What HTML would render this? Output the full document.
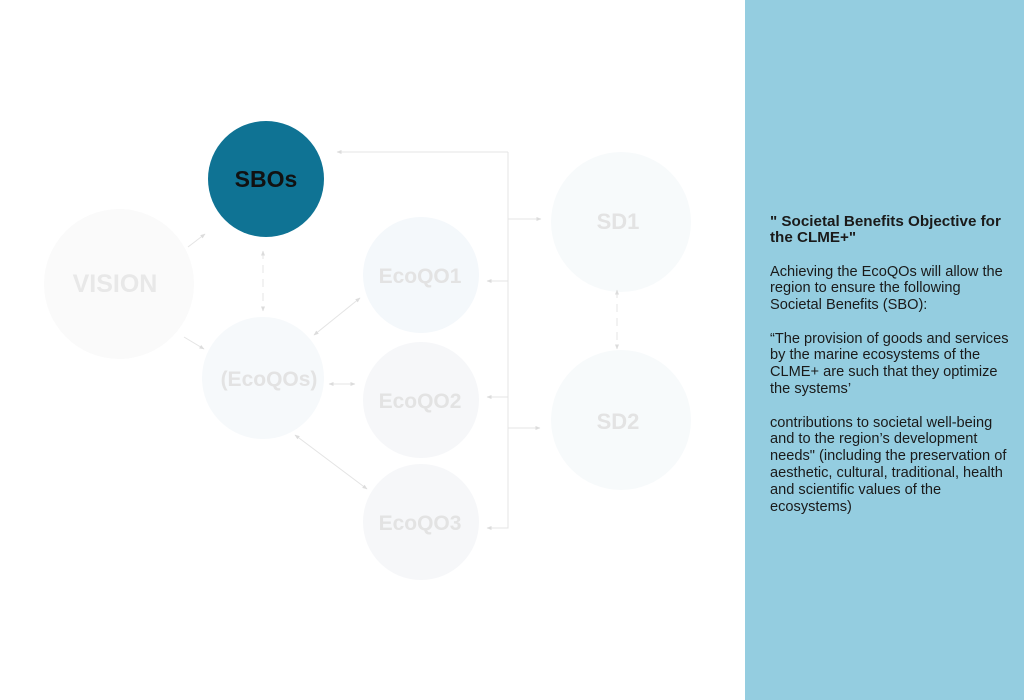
<!DOCTYPE html>
<html><head><meta charset="utf-8"><style>
html,body{margin:0;padding:0;background:#fff;}
svg{display:block}
</style></head><body>
<svg width="1024" height="700" viewBox="0 0 1024 700" xmlns="http://www.w3.org/2000/svg">
<defs>
<marker id="a" viewBox="0 0 10 10" refX="9" refY="5" markerWidth="6" markerHeight="5" orient="auto-start-reverse"><path d="M0,1 L10,5 L0,9 z" fill="#dcdcdc"/></marker>
</defs>
<rect x="0" y="0" width="1024" height="700" fill="#fff"/>
<rect x="745" y="0" width="279" height="700" fill="#94cde0"/>

<circle cx="119" cy="284" r="75" fill="#fafafa"/>
<circle cx="266" cy="179" r="58" fill="#0f7394"/>
<circle cx="263" cy="378" r="61" fill="#f6f9fb"/>
<circle cx="421" cy="275" r="58" fill="#f4f8fb"/>
<circle cx="421" cy="400" r="58" fill="#f6f7f9"/>
<circle cx="421" cy="522" r="58" fill="#f6f7f9"/>
<circle cx="621" cy="222" r="70" fill="#f7fafb"/>
<circle cx="621" cy="420" r="70" fill="#f7fafb"/>

<g stroke="#e4e4e4" stroke-width="1" fill="none">
<line x1="188" y1="247" x2="205" y2="234" marker-end="url(#a)"/>
<line x1="184" y1="337" x2="204" y2="349" marker-end="url(#a)"/>
<line x1="263" y1="251" x2="263" y2="311" stroke-dasharray="8,6" marker-start="url(#a)" marker-end="url(#a)"/>
<line x1="314" y1="335" x2="360" y2="298" marker-start="url(#a)" marker-end="url(#a)"/>
<line x1="329" y1="384" x2="355" y2="384" marker-start="url(#a)" marker-end="url(#a)"/>
<line x1="295" y1="435" x2="367" y2="489" marker-start="url(#a)" marker-end="url(#a)"/>
<polyline points="508,152 508,528 487,528" marker-end="url(#a)"/>
<line x1="508" y1="152" x2="337" y2="152" marker-end="url(#a)"/>
<line x1="508" y1="281" x2="487" y2="281" marker-end="url(#a)"/>
<line x1="508" y1="397" x2="487" y2="397" marker-end="url(#a)"/>
<line x1="508" y1="219" x2="541" y2="219" marker-end="url(#a)"/>
<line x1="508" y1="428" x2="540" y2="428" marker-end="url(#a)"/>
<line x1="617" y1="290" x2="617" y2="349" stroke-dasharray="8,6" marker-start="url(#a)" marker-end="url(#a)"/>
</g>

<g font-family="Liberation Sans, sans-serif" font-weight="bold" text-anchor="middle">
<text x="266" y="187" font-size="23" fill="#111">SBOs</text>
<text x="115" y="292" font-size="25" fill="#e8e8e8">VISION</text>
</g>
<g font-family="Liberation Sans, sans-serif" text-anchor="middle" fill="#e3e3e3" font-size="21" font-weight="bold">
<text x="269" y="386">(EcoQOs)</text>
<text x="420" y="283">EcoQO1</text>
<text x="420" y="408">EcoQO2</text>
<text x="420" y="530">EcoQO3</text>
<text x="618" y="229" font-size="22">SD1</text>
<text x="618" y="429" font-size="22">SD2</text>
</g>

<g font-family="Liberation Sans, sans-serif" font-size="14.6" fill="#1a1a1a">
<text x="770" y="226" font-weight="bold" font-size="15.2">" Societal Benefits Objective for</text>
<text x="770" y="242" font-weight="bold" font-size="15.2">the CLME+"</text>
<text x="770" y="276">Achieving the EcoQOs will allow the</text>
<text x="770" y="292">region to ensure the following</text>
<text x="770" y="309">Societal Benefits (SBO):</text>
<text x="770" y="343">“The provision of goods and services</text>
<text x="770" y="359">by the marine ecosystems of the</text>
<text x="770" y="376">CLME+ are such that they optimize</text>
<text x="770" y="393">the systems’</text>
<text x="770" y="427">contributions to societal well-being</text>
<text x="770" y="443">and to the region’s development</text>
<text x="770" y="460">needs" (including the preservation of</text>
<text x="770" y="477">aesthetic, cultural, traditional, health</text>
<text x="770" y="494">and scientific values of the</text>
<text x="770" y="511">ecosystems)</text>
</g>
</svg>
</body></html>
